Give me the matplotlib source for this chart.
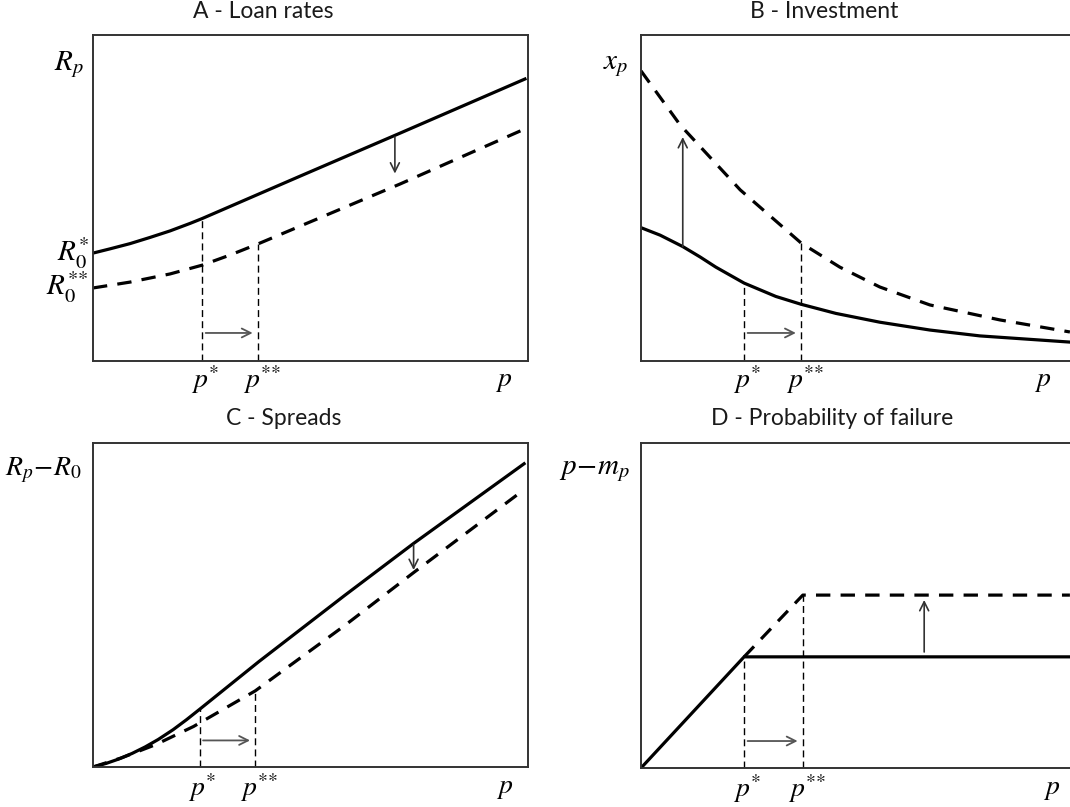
import matplotlib
matplotlib.use("Agg")
import matplotlib.pyplot as plt

plt.rcParams['mathtext.fontset'] = 'stix'

# panel titles and axis labels
titles = ['A - Loan rates', 'B - Investment', 'C - Spreads', 'D - Probability of failure']
ylabels = [r'$R_p$', r'$x_p$', r'$R_p\!-\!R_0$', r'$p\!-\!m_p$']

# A - loan rates (x = p, y = R_p, both scaled 0..1)
a_x_solid = [0, 0.039, 0.085, 0.131, 0.177, 0.223, 0.251, 0.476, 0.706, 0.993]
a_y_solid = [0.331, 0.344, 0.360, 0.379, 0.399, 0.422, 0.437, 0.567, 0.699, 0.865]
a_x_dash = [0, 0.085, 0.177, 0.251, 0.315, 0.379, 0.706, 0.993]
a_y_dash = [0.224, 0.242, 0.267, 0.294, 0.325, 0.359, 0.543, 0.712]
a_pstar, a_pstar2 = 0.251, 0.379

# B - investment
b_x_solid = [0, 0.044, 0.096, 0.136, 0.172, 0.237, 0.310, 0.368, 0.448, 0.549, 0.664, 0.779, 0.986]
b_y_solid = [0.409, 0.386, 0.351, 0.319, 0.288, 0.239, 0.198, 0.174, 0.146, 0.119, 0.095, 0.077, 0.058]
b_x_dash = [0, 0.090, 0.228, 0.368, 0.457, 0.549, 0.664, 0.825, 0.986]
b_y_dash = [0.890, 0.724, 0.525, 0.362, 0.288, 0.227, 0.172, 0.126, 0.089]
b_pstar, b_pstar2 = 0.237, 0.368

# C - spreads
c_x_solid = [0, 0.03, 0.06, 0.09, 0.12, 0.15, 0.184, 0.215, 0.245, 0.381, 0.579, 0.737, 0.991]
c_y_solid = [0, 0.011, 0.025, 0.042, 0.062, 0.085, 0.115, 0.146, 0.178, 0.325, 0.530, 0.690, 0.936]
c_x_dash = [0, 0.065, 0.144, 0.231, 0.373, 0.579, 0.737, 0.979]
c_y_dash = [0, 0.028, 0.069, 0.125, 0.235, 0.437, 0.600, 0.844]
c_pstar, c_pstar2 = 0.245, 0.373

# D - probability of failure
d_x_solid = [0, 0.237, 0.986]
d_y_solid = [0, 0.342, 0.342]
d_x_dash = [0.237, 0.372, 0.986]
d_y_dash = [0.342, 0.532, 0.532]
d_pstar, d_pstar2 = 0.237, 0.372

W, H = 1070, 807
fig = plt.figure(figsize=(W / 100, H / 100), dpi=100)


def make_axes(left, top, w, h):
    ax = fig.add_axes([left / W, 1 - (top + h) / H, w / W, h / H])
    ax.set_xlim(0, 1)
    ax.set_ylim(0, 1)
    ax.set_xticks([])
    ax.set_yticks([])
    for s in ax.spines.values():
        s.set_linewidth(1.4)
        s.set_color('#333333')
    return ax


def draw(ax, xs, ys, xd, yd, ps, ps2, ps_top, ps2_top, harrow_y, varrow, plab_x, lab_y):
    ax.plot(xs, ys, color='black', lw=2.3, solid_joinstyle='round')
    ax.plot(xd, yd, color='black', lw=2.3, dashes=(4.5, 3.2))
    ax.plot([ps, ps], [0, ps_top], color='black', lw=1.0, dashes=(5, 3))
    ax.plot([ps2, ps2], [0, ps2_top], color='black', lw=1.0, dashes=(5, 3))
    ax.annotate('', xy=(ps2 - 0.012, harrow_y), xytext=(ps + 0.008, harrow_y),
                arrowprops=dict(arrowstyle='->', color='#555555', lw=1.3,
                                mutation_scale=16, shrinkA=0, shrinkB=0))
    vx, vy0, vy1 = varrow
    ax.annotate('', xy=(vx, vy1), xytext=(vx, vy0),
                arrowprops=dict(arrowstyle='->', color='#333333', lw=1.2,
                                mutation_scale=16, shrinkA=0, shrinkB=0))
    ax.text(ps + 0.006, lab_y, r'$p^{*}$', fontsize=20, ha='center', va='center', clip_on=False)
    ax.text(ps2 + 0.010, lab_y, r'$p^{*\!*}$', fontsize=20, ha='center', va='center', clip_on=False)
    ax.text(plab_x, lab_y, r'$p$', fontsize=20, ha='center', va='center', clip_on=False)


axA = make_axes(93, 35, 435, 326)
axB = make_axes(641, 35, 435, 326)
axC = make_axes(93, 443, 435, 324)
axD = make_axes(641, 443, 435, 325)

draw(axA, a_x_solid, a_y_solid, a_x_dash, a_y_dash, a_pstar, a_pstar2,
     0.437, 0.359, 0.086, (0.694, 0.687, 0.575), 0.943, -0.058)
draw(axB, b_x_solid, b_y_solid, b_x_dash, b_y_dash, b_pstar, b_pstar2,
     0.239, 0.362, 0.086, (0.096, 0.351, 0.687), 0.924, -0.058)
draw(axC, c_x_solid, c_y_solid, c_x_dash, c_y_dash, c_pstar, c_pstar2,
     0.178, 0.235, 0.082, (0.737, 0.685, 0.608), 0.947, -0.062)
draw(axD, d_x_solid, d_y_solid, d_x_dash, d_y_dash, d_pstar, d_pstar2,
     0.342, 0.532, 0.083, (0.651, 0.357, 0.517), 0.945, -0.062)

# y-axis labels
axA.text(-0.022, 0.908, ylabels[0], fontsize=21, ha='right', va='center', clip_on=False)
axA.text(-0.010, 0.331, r'$R_0^{*}$', fontsize=21, ha='right', va='center', clip_on=False)
axA.text(-0.010, 0.227, r'$R_0^{*\!*}$', fontsize=21, ha='right', va='center', clip_on=False)
axB.text(-0.030, 0.908, ylabels[1], fontsize=21, ha='right', va='center', clip_on=False)
axC.text(-0.025, 0.917, ylabels[2], fontsize=20, ha='right', va='center', clip_on=False)
axD.text(-0.025, 0.917, ylabels[3], fontsize=21, ha='right', va='center', clip_on=False)

# titles (placed in figure pixels like the original)
title_pos = [(263, 12), (824, 12), (284, 418), (832, 418)]
for t, (x, y) in zip(titles, title_pos):
    fig.text(x / W, 1 - y / H, t, fontsize=16.5, family='Lato', ha='center', va='center',
             color='#1a1a1a')

fig.savefig('out.png', dpi=100)
